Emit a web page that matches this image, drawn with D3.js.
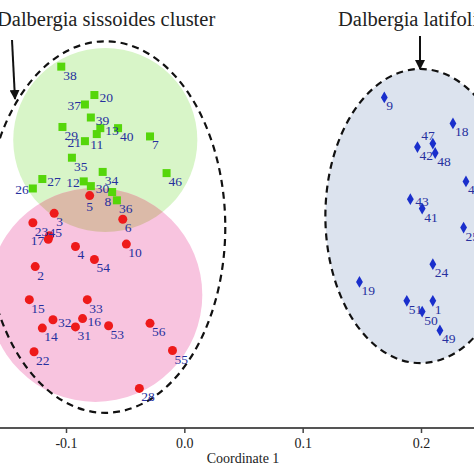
<!DOCTYPE html>
<html><head><meta charset="utf-8">
<script src="https://cdn.jsdelivr.net/npm/d3@7"></script>
<style>body{margin:0;background:#fff}svg{display:block}</style>
</head><body>
<script>
// ---- data (Coordinate 1, Coordinate 2) ----
const greenIds = ["38","20","37","39","29","13","11","21","40","7","35","34","46","12","27","26","30","8","36"];
const greenX = [-0.104,-0.076,-0.084,-0.079,-0.103,-0.071,-0.074,-0.084,-0.056,-0.029,-0.095,-0.069,-0.015,-0.085,-0.120,-0.128,-0.079,-0.061,-0.057];
const greenY = [0.155,0.131,0.123,0.112,0.104,0.103,0.098,0.092,0.103,0.096,0.078,0.066,0.065,0.058,0.060,0.052,0.054,0.049,0.042];

const redIds = ["5","3","6","23","45","17","4","10","54","2","15","33","32","16","14","31","53","56","22","55","28"];
const redX = [-0.080,-0.110,-0.052,-0.128,-0.114,-0.115,-0.092,-0.049,-0.076,-0.126,-0.131,-0.082,-0.111,-0.086,-0.120,-0.092,-0.064,-0.029,-0.127,-0.010,-0.038];
const redY = [0.046,0.031,0.026,0.023,0.012,0.009,0.003,0.005,-0.008,-0.014,-0.042,-0.042,-0.059,-0.058,-0.066,-0.065,-0.064,-0.062,-0.086,-0.085,-0.117];

const blueIds = ["9","18","47","42","48","44","43","41","25","24","19","51","1","50","49"];
const blueX = [0.169,0.227,0.210,0.197,0.212,0.238,0.191,0.201,0.236,0.210,0.148,0.188,0.210,0.201,0.216];
const blueY = [0.129,0.107,0.090,0.087,0.082,0.058,0.043,0.035,0.019,-0.012,-0.027,-0.043,-0.043,-0.052,-0.068];

const xTicks = [-0.1, 0.0, 0.1, 0.2];
const xTitle = "Coordinate 1";
const clusterTitles = ["Dalbergia sissoides cluster", "Dalbergia latifolia cluster"];

// label placement codes (default: right-below)
const labelPlace = {"37":"l","21":"l","12":"l","26":"l","8":"lb","17":"l","47":"tl","45":"c","11":"b","5":"b","30":"r","13":"r","20":"r","27":"r","32":"r","16":"r","39":"r","43":"r"};

// ---- layout ----
const W = 474, H = 474;
const x = d3.scaleLinear().domain([-0.1, 0.2]).range([66, 421]);
const y = d3.scaleLinear().domain([0, 0.1]).range([250, 131.7]);
const k = x(0.1) - x(0);
const u = v => v * k / 0.1;

const svg = d3.select("body").append("svg").attr("width", W).attr("height", H);
const defs = svg.append("defs");
const serif = "'Liberation Serif','Times New Roman',serif";

const blueE = {cx:0.1995, cy:0.0287, rx:0.0803, ry:0.1243};
const greenC = {cx:-0.0668, cy:0.093, r:0.0778};
const pinkC = {cx:-0.0752, cy:-0.038, r:0.0904};
const leftE = {cx:-0.0668, cy:0.0194, rx:0.1014, ry:0.157};

svg.append("ellipse").attr("cx", x(blueE.cx)).attr("cy", y(blueE.cy))
  .attr("rx", u(blueE.rx)).attr("ry", u(blueE.ry)).attr("fill", "#dce3ee");

svg.append("circle").attr("cx", x(greenC.cx)).attr("cy", y(greenC.cy)).attr("r", u(greenC.r)).attr("fill", "#d8f5c8");
svg.append("circle").attr("cx", x(pinkC.cx)).attr("cy", y(pinkC.cy)).attr("r", u(pinkC.r)).attr("fill", "#f8c4df");
defs.append("clipPath").attr("id", "gclip").append("circle")
  .attr("cx", x(greenC.cx)).attr("cy", y(greenC.cy)).attr("r", u(greenC.r));
svg.append("circle").attr("clip-path", "url(#gclip)")
  .attr("cx", x(pinkC.cx)).attr("cy", y(pinkC.cy)).attr("r", u(pinkC.r)).attr("fill", "#dbbaa8");

svg.append("ellipse").attr("cx", x(leftE.cx)).attr("cy", y(leftE.cy))
  .attr("rx", u(leftE.rx)).attr("ry", u(leftE.ry))
  .attr("fill", "none").attr("stroke", "#111").attr("stroke-width", 2.2).attr("stroke-dasharray", "7,5");
svg.append("ellipse").attr("cx", x(blueE.cx)).attr("cy", y(blueE.cy))
  .attr("rx", u(blueE.rx)).attr("ry", u(blueE.ry))
  .attr("fill", "none").attr("stroke", "#111").attr("stroke-width", 2.2).attr("stroke-dasharray", "7,5");

// axis
const axisY = 428;
svg.append("line").attr("x1", 0).attr("x2", W).attr("y1", axisY).attr("y2", axisY)
  .attr("stroke", "#555").attr("stroke-width", 2);
const ax = svg.append("g").attr("transform", `translate(0,${axisY})`)
  .call(d3.axisBottom(x).tickValues(xTicks).tickSize(5).tickPadding(5).tickFormat(d => d.toFixed(1)));
ax.select(".domain").remove();
ax.selectAll(".tick line").attr("stroke", "#444").attr("stroke-width", 1.5);
ax.selectAll(".tick text").attr("font-family", serif).attr("font-size", 14).attr("fill", "#222");
svg.append("text").attr("x", 243).attr("y", 463).attr("text-anchor", "middle")
  .attr("font-family", serif).attr("font-size", 14).attr("fill", "#222").text(xTitle);

// titles and arrows
svg.append("text").attr("x", -3).attr("y", 26).attr("font-family", serif).attr("font-size", 20.5)
  .attr("fill", "#222").text(clusterTitles[0]);
svg.append("text").attr("x", 338).attr("y", 26).attr("font-family", serif).attr("font-size", 20.5)
  .attr("fill", "#222").text(clusterTitles[1]);

defs.append("marker").attr("id", "ah").attr("viewBox", "0 0 10 10").attr("refX", 9).attr("refY", 5)
  .attr("markerWidth", 5).attr("markerHeight", 5).attr("orient", "auto")
  .append("path").attr("d", "M0,0 L10,5 L0,10 Z").attr("fill", "#111");
svg.append("line").attr("x1", 12).attr("y1", 40).attr("x2", 15).attr("y2", 99)
  .attr("stroke", "#111").attr("stroke-width", 2).attr("marker-end", "url(#ah)");
svg.append("line").attr("x1", 420).attr("y1", 36).attr("x2", 420).attr("y2", 69)
  .attr("stroke", "#111").attr("stroke-width", 2).attr("marker-end", "url(#ah)");

// points
const mk = (ids, xs, ys) => ids.map((id, i) => ({id, x: xs[i], y: ys[i]}));
const greens = mk(greenIds, greenX, greenY);
const reds = mk(redIds, redX, redY);
const blues = mk(blueIds, blueX, blueY);

svg.append("g").selectAll("rect").data(greens).join("rect")
  .attr("x", d => x(d.x) - 4).attr("y", d => y(d.y) - 4).attr("width", 8).attr("height", 8)
  .attr("fill", "#55d60a");
svg.append("g").selectAll("circle").data(reds).join("circle")
  .attr("cx", d => x(d.x)).attr("cy", d => y(d.y)).attr("r", 4.5).attr("fill", "#ee1a1a");
svg.append("g").selectAll("path").data(blues).join("path")
  .attr("transform", d => `translate(${x(d.x)},${y(d.y)})`)
  .attr("d", d3.symbol(d3.symbolDiamond, 40)).attr("fill", "#1a2fcc");

// labels
const all = greens.concat(reds, blues);
function lp(d) {
  const px = x(d.x), py = y(d.y), p = labelPlace[d.id] || "rb";
  switch (p) {
    case "l": return [px - 4, py + 6, "end"];
    case "lb": return [px - 1, py + 14, "end"];
    case "tl": return [px + 2, py - 4, "end"];
    case "c": return [px - 1, py + 1, "start"];
    case "b": return [px, py + 15, "middle"];
    case "r": return [px + 5, py + 7, "start"];
    default: return [px + 2, py + 13, "start"];
  }
}
svg.append("g").selectAll("text").data(all).join("text")
  .attr("x", d => lp(d)[0]).attr("y", d => lp(d)[1]).attr("text-anchor", d => lp(d)[2])
  .attr("font-family", serif).attr("font-size", 13.5).attr("fill", "#26309e")
  .text(d => d.id);
</script>
</body></html>
